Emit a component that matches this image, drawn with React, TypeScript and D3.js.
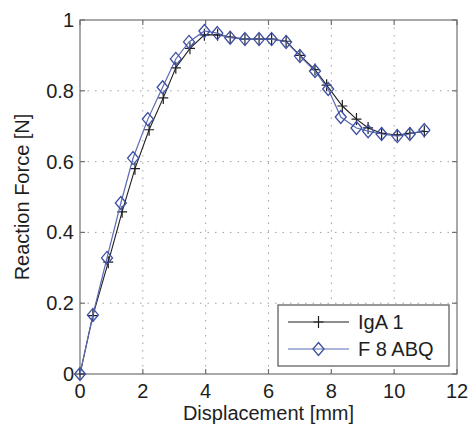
import { useEffect, useRef } from "react"
import * as d3 from "d3"

// displacement [mm] / reaction force [N]
const igaX = [0, 0.41, 0.9, 1.34, 1.75, 2.2, 2.65, 3.05, 3.5, 3.96, 4.38, 4.78, 5.25, 5.7, 6.1, 6.56, 7.0, 7.48, 7.85, 8.35, 8.8, 9.17, 9.6, 10.1, 10.5, 10.96]
const igaY = [0, 0.165, 0.316, 0.458, 0.58, 0.69, 0.78, 0.865, 0.92, 0.958, 0.958, 0.952, 0.946, 0.946, 0.946, 0.94, 0.9, 0.86, 0.816, 0.757, 0.72, 0.695, 0.68, 0.675, 0.68, 0.685]

const abqX = [0, 0.41, 0.86, 1.3, 1.69, 2.16, 2.63, 3.05, 3.47, 3.96, 4.37, 4.78, 5.25, 5.7, 6.1, 6.56, 7.0, 7.48, 7.9, 8.3, 8.8, 9.17, 9.6, 10.1, 10.5, 10.96]
const abqY = [0, 0.167, 0.328, 0.483, 0.61, 0.72, 0.81, 0.89, 0.938, 0.969, 0.963, 0.95, 0.946, 0.946, 0.946, 0.938, 0.898, 0.856, 0.805, 0.726, 0.695, 0.686, 0.678, 0.672, 0.678, 0.689]

const xTicks = [0, 2, 4, 6, 8, 10, 12]
const yTicks = [0, 0.2, 0.4, 0.6, 0.8, 1]
const seriesNames = ["IgA 1", "F 8 ABQ"]

const W = 474
const H = 428
const FONT = "'Liberation Sans', Arial, sans-serif"
const BLACK = "#1e1e1e"
const BLUE = "#3c4ea3"
const BLUE_LINE = "#5b6cb4"

export default function App() {
    const ref = useRef<SVGSVGElement | null>(null)

    useEffect(() => {
        const svg = d3.select(ref.current)
        svg.selectAll("*").remove()

        const margin = { top: 20, right: 17, bottom: 54, left: 80 }
        const innerW = W - margin.left - margin.right
        const innerH = H - margin.top - margin.bottom

        const x = d3.scaleLinear().domain([0, 12]).range([0, innerW])
        const y = d3.scaleLinear().domain([0, 1]).range([innerH, 0])

        const g = svg.append("g").attr("transform", `translate(${margin.left},${margin.top})`)

        g.append("rect").attr("width", innerW).attr("height", innerH).attr("fill", "#fff")

        // dotted grid
        const grid = g.append("g").attr("stroke", "#a0a0a0").attr("stroke-width", 1).attr("stroke-dasharray", "1.5,6")
        xTicks.slice(1, -1).forEach(t => {
            grid.append("line").attr("x1", x(t)).attr("x2", x(t)).attr("y1", 0).attr("y2", innerH)
        })
        yTicks.slice(1, -1).forEach(t => {
            grid.append("line").attr("x1", 0).attr("x2", innerW).attr("y1", y(t)).attr("y2", y(t))
        })

        // box with inward ticks on all sides
        const box = g.append("g").attr("stroke", "#707070").attr("stroke-width", 1.2).attr("fill", "none")
        box.append("rect").attr("width", innerW).attr("height", innerH)
        const tl = 5
        xTicks.forEach(t => {
            box.append("line").attr("x1", x(t)).attr("x2", x(t)).attr("y1", innerH).attr("y2", innerH - tl)
            box.append("line").attr("x1", x(t)).attr("x2", x(t)).attr("y1", 0).attr("y2", tl)
        })
        yTicks.forEach(t => {
            box.append("line").attr("x1", 0).attr("x2", tl).attr("y1", y(t)).attr("y2", y(t))
            box.append("line").attr("x1", innerW).attr("x2", innerW - tl).attr("y1", y(t)).attr("y2", y(t))
        })

        const labels = g.append("g").attr("font-family", FONT).attr("font-size", 20).attr("fill", BLACK)
        xTicks.forEach(t => {
            labels.append("text").attr("x", x(t)).attr("y", innerH + 24).attr("text-anchor", "middle").text(d3.format("~g")(t))
        })
        yTicks.forEach(t => {
            labels.append("text").attr("x", -6).attr("y", y(t)).attr("dy", "0.35em").attr("text-anchor", "end").text(d3.format("~g")(t))
        })

        labels.append("text")
            .attr("x", innerW / 2)
            .attr("y", innerH + 46)
            .attr("text-anchor", "middle")
            .text("Displacement [mm]")

        labels.append("text")
            .attr("transform", "rotate(-90)")
            .attr("x", -innerH / 2)
            .attr("y", -51)
            .attr("text-anchor", "middle")
            .text("Reaction Force [N]")

        const line = d3.line<[number, number]>().x(d => x(d[0])).y(d => y(d[1]))
        const iga = igaX.map((v, i) => [v, igaY[i]] as [number, number])
        const abq = abqX.map((v, i) => [v, abqY[i]] as [number, number])

        const plus = (sel: d3.Selection<SVGGElement, unknown, null, undefined>, px: number, py: number) => {
            sel.append("path").attr("d", `M${px - 5},${py}H${px + 5}M${px},${py - 6}V${py + 6}`)
                .attr("stroke", BLACK).attr("stroke-width", 1.2).attr("fill", "none")
        }
        const diamond = (sel: d3.Selection<SVGGElement, unknown, null, undefined>, px: number, py: number) => {
            sel.append("path").attr("d", `M${px},${py - 6.5}L${px + 5.5},${py}L${px},${py + 6.5}L${px - 5.5},${py}Z`)
                .attr("stroke", BLUE).attr("stroke-width", 1.3).attr("fill", "none")
        }

        g.append("path").datum(iga).attr("d", line).attr("fill", "none").attr("stroke", BLACK).attr("stroke-width", 1.1)
        const gi = g.append("g")
        iga.forEach(d => plus(gi, x(d[0]), y(d[1])))

        g.append("path").datum(abq).attr("d", line).attr("fill", "none").attr("stroke", BLUE_LINE).attr("stroke-width", 1.2)
        const ga = g.append("g")
        abq.forEach(d => diamond(ga, x(d[0]), y(d[1])))

        // legend
        const lx = 198, ly = 285, lw = 171, lh = 61
        const leg = g.append("g").attr("transform", `translate(${lx},${ly})`)
        leg.append("rect").attr("width", lw).attr("height", lh).attr("fill", "#fff").attr("stroke", "#555").attr("stroke-width", 1.2)
        const rows = [17, 44]
        leg.append("line").attr("x1", 10).attr("x2", 71).attr("y1", rows[0]).attr("y2", rows[0]).attr("stroke", BLACK).attr("stroke-width", 1.1)
        plus(leg, 40.5, rows[0])
        leg.append("line").attr("x1", 10).attr("x2", 71).attr("y1", rows[1]).attr("y2", rows[1]).attr("stroke", BLUE_LINE).attr("stroke-width", 1.2)
        diamond(leg, 40.5, rows[1])
        seriesNames.forEach((n, i) => {
            leg.append("text").attr("x", 80).attr("y", rows[i]).attr("dy", "0.35em")
                .attr("font-family", FONT).attr("font-size", 20).attr("fill", BLACK).text(n)
        })
    }, [])

    return (
        <div style={{ position: "absolute", left: 0, top: 0 }}>
            <svg ref={ref} width={W} height={H} style={{ display: "block", background: "#fff" }} />
        </div>
    )
}
